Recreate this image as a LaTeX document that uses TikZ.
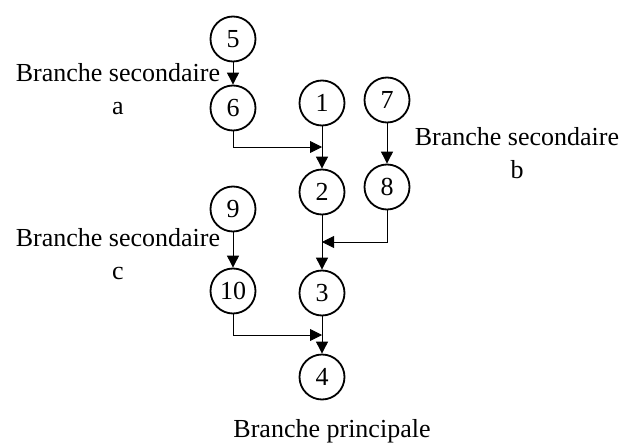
\documentclass[tikz,border=0pt]{standalone}
\usepackage{fontspec}
\setmainfont{Liberation Serif}
\usetikzlibrary{arrows.meta}
\begin{document}
\begin{tikzpicture}[x=1pt,y=-1pt,
    etat/.style={circle,draw,line width=1.8pt,minimum size=45pt,inner sep=0pt},
    fl/.style={-{Triangle[length=12pt,width=12pt]},line width=0.9pt},
    txt/.style={align=center,inner sep=0pt}]
   \useasboundingbox (0,0) rectangle (624,447);
   \fontsize{26}{33}\selectfont
    \node[etat] (n5) at (233,39) {5};
    \node[etat] (n6) at (233,108) {6};
    \node[etat] (n1) at (322,103) {1};
    \node[etat] (n7) at (387,100) {7};
    \node[etat] (n2) at (322,192) {2};
    \node[etat] (n8) at (387,187) {8};
    \node[etat] (n9) at (233,209) {9};
    \node[etat] (n10) at (233,291) {10};
    \node[etat] (n3) at (322,293) {3};
    \node[etat] (n4) at (322,377) {4};
    \coordinate (j6) at (322,147);
    \coordinate (j8) at (322,242);
    \coordinate (j10) at (322,335);
    \node[txt] (la) at (118,89) {Branche secondaire\\a};
    \node[txt] (lb) at (517,153) {Branche secondaire\\b};
    \node[txt] (lc) at (118,254) {Branche secondaire\\c};
    \node[txt] (lp) at (332,431) {Branche principale};
    \draw[fl] (n5)--(n6);
    \draw[fl] (n6.south) |- (j6);
    \draw[fl] (n1)--(n2);
    \draw[fl] (n7)--(n8);
    \draw[fl] (n8.south) |- (j8);
    \draw[fl] (n2)--(n3);
    \draw[fl] (n9)--(n10);
    \draw[fl] (n10.south) |- (j10);
    \draw[fl] (n3)--(n4);
\end{tikzpicture}
\end{document}
